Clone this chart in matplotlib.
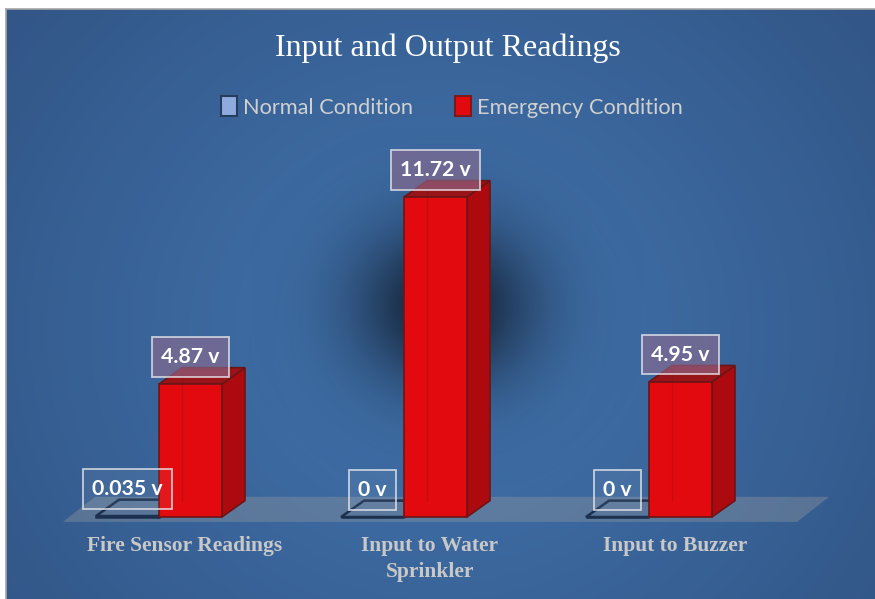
import numpy as np
import matplotlib
matplotlib.use('Agg')
import matplotlib.pyplot as plt
from matplotlib.patches import Polygon, Patch

# ---------------- data ----------------
categories = ['Fire Sensor Readings', 'Input to Water\nSprinkler', 'Input to Buzzer']
series_names = ['Normal Condition', 'Emergency Condition']
normal = [0.035, 0.0, 0.0]
emergency = [4.87, 11.72, 4.95]
normal_labels = ['0.035 v', '0 v', '0 v']
emergency_labels = ['4.87 v', '11.72 v', '4.95 v']
title = 'Input and Output Readings'

# ---------------- layout ----------------
W, H = 875, 599
fig = plt.figure(figsize=(W / 100, H / 100), dpi=100)
fig.patch.set_facecolor('white')

# chart background (radial gradient)
bg = fig.add_axes([6 / W, 0, (W - 6) / W, (H - 9) / H])
ny, nx = 300, 440
yy, xx = np.mgrid[0:ny, 0:nx]
cx, cy = (440 - 6) / 869 * nx, (330 - 9) / 590 * ny
r = np.sqrt(((xx - cx) / (nx * 0.62)) ** 2 + ((yy - cy) / (ny * 0.85)) ** 2)
r = np.clip(r, 0, 1)
inner = np.array([64, 113, 170]) / 255
outer = np.array([50, 86, 135]) / 255
img = inner + (outer - inner) * (r[..., None] ** 1.3)
bg.imshow(img, aspect='auto', extent=[0, 1, 0, 1], origin='upper', interpolation='bilinear')
bg.set_xlim(0, 1)
bg.set_ylim(0, 1)
bg.set_xticks([])
bg.set_yticks([])
for s in ['right', 'bottom']:
    bg.spines[s].set_visible(False)
for s in ['left', 'top']:
    bg.spines[s].set_color('#a6a6a6')
    bg.spines[s].set_linewidth(1.2)

ax = fig.add_axes([0, 0, 1, 1], facecolor='none')
px_x = 245.0   # pixels per category
px_y = 27.3    # pixels per volt
xlim = (-159 / px_x, (W - 159) / px_x)
ylim = (-(H - 517) / px_y, 517 / px_y)
ax.axis('off')

w = 0.257            # bar width
DX, DY = 0.094, 0.6  # bar depth offset
n = len(categories)
x = np.arange(n)

# floor
FDX, FDY = 0.131, 0.92
f0, f1, fy = -0.392, n - 1 + 0.604, -0.18
ax.add_patch(Polygon([(f0, fy), (f1, fy), (f1 + FDX, fy + FDY), (f0 + FDX, fy + FDY)],
                     closed=True, fc=(0.58, 0.6, 0.62, 0.38), ec='none', zorder=1))

# soft shadow behind the tallest bar
k = int(np.argmax(emergency))
hk = emergency[k]
xc, yc = k + w / 2 + DX * 0.4, hk * 0.656
rx, ry = 0.5, 4.1
gy, gx = np.mgrid[-1.6:1.6:320j, -1.6:1.6:320j]
d = np.sqrt(gx ** 2 + gy ** 2)
alpha = 0.85 * np.exp(-d ** 2 / (2 * 0.52 ** 2))
sh = np.zeros((320, 320, 4))
sh[..., 0] = 0.05
sh[..., 1] = 0.08
sh[..., 2] = 0.13
sh[..., 3] = alpha
ax.imshow(sh, extent=[xc - 1.6 * rx, xc + 1.6 * rx, yc - 1.6 * ry, yc + 1.6 * ry],
          aspect='auto', zorder=1.5, interpolation='bilinear')
ax.set_xlim(*xlim)
ax.set_ylim(*ylim)


def bar3d(xs, hs, front, side, top, edge, lw, z):
    bars = ax.bar(xs, hs, width=w, color=front, edgecolor=edge, linewidth=lw, zorder=z)
    for b in bars:
        x0 = b.get_x()
        x1 = x0 + b.get_width()
        h = b.get_height()
        ax.plot([x0 + DX, x0 + DX], [DY, h + DY], color=edge, lw=0.8, alpha=0.25, zorder=z + 0.1)
        ax.add_patch(Polygon([(x1, 0), (x1 + DX, DY), (x1 + DX, h + DY), (x1, h)], closed=True,
                             fc=side, ec=edge, lw=lw, zorder=z - 0.1))
        ax.add_patch(Polygon([(x0, h), (x0 + DX, h + DY), (x1 + DX, h + DY), (x1, h)], closed=True,
                             fc=top, ec=edge, lw=lw, zorder=z - 0.1))
    return bars


bar3d(x - w / 2, normal, (0.56, 0.67, 0.86, 0.25), (0.3, 0.4, 0.55, 0.3),
      (0.35, 0.45, 0.6, 0.3), '#1c3050', 1.8, 3)
bar3d(x + w / 2, emergency, '#e20a0e', '#ad0a10', '#981418', '#6b1616', 1.2, 4)

# data labels
lab_kw = dict(textcoords='offset pixels', ha='center', va='center', fontsize=15.3,
              fontweight='bold', color='white', family='Lato', zorder=6)
for i in range(n):
    ax.annotate(normal_labels[i], xy=(x[i] - w / 2, normal[i]), xytext=(0, 27),
                bbox=dict(boxstyle='square,pad=0.45', fc=(1, 1, 1, 0.06),
                          ec=(0.9, 0.9, 0.92, 0.8), lw=1.3), **lab_kw)
    ax.annotate(emergency_labels[i], xy=(x[i] + w / 2, emergency[i]), xytext=(0, 27),
                bbox=dict(boxstyle='square,pad=0.45', fc=(0.55, 0.42, 0.56, 0.62),
                          ec=(0.9, 0.9, 0.92, 0.8), lw=1.3), **lab_kw)

# category labels
for i in range(n):
    ax.text(x[i] + 0.105, -0.7, categories[i], ha='center', va='top', fontsize=15.5,
            fontweight='bold', family='Liberation Serif', color='#c8c8c8',
            linespacing=1.4, zorder=6)

# title
fig.text(448 / W, 1 - 48 / H, title, ha='center', va='center', fontsize=23,
         family='Liberation Serif', color='white')

# legend
handles = [Patch(fc='#8faadc', ec='#263d5e', lw=1.5),
           Patch(fc='#e20a0e', ec='#7a1a1a', lw=1.5)]
leg = fig.legend(handles, series_names, loc='center', bbox_to_anchor=(452 / W, 1 - 107 / H),
                 ncol=2, frameon=False, handlelength=0.72, handleheight=1.0,
                 handletextpad=0.3, columnspacing=1.9,
                 prop={'family': 'Lato', 'size': 15.7})
for t in leg.get_texts():
    t.set_color('#d0d0d0')

fig.savefig('out.png', dpi=100)
